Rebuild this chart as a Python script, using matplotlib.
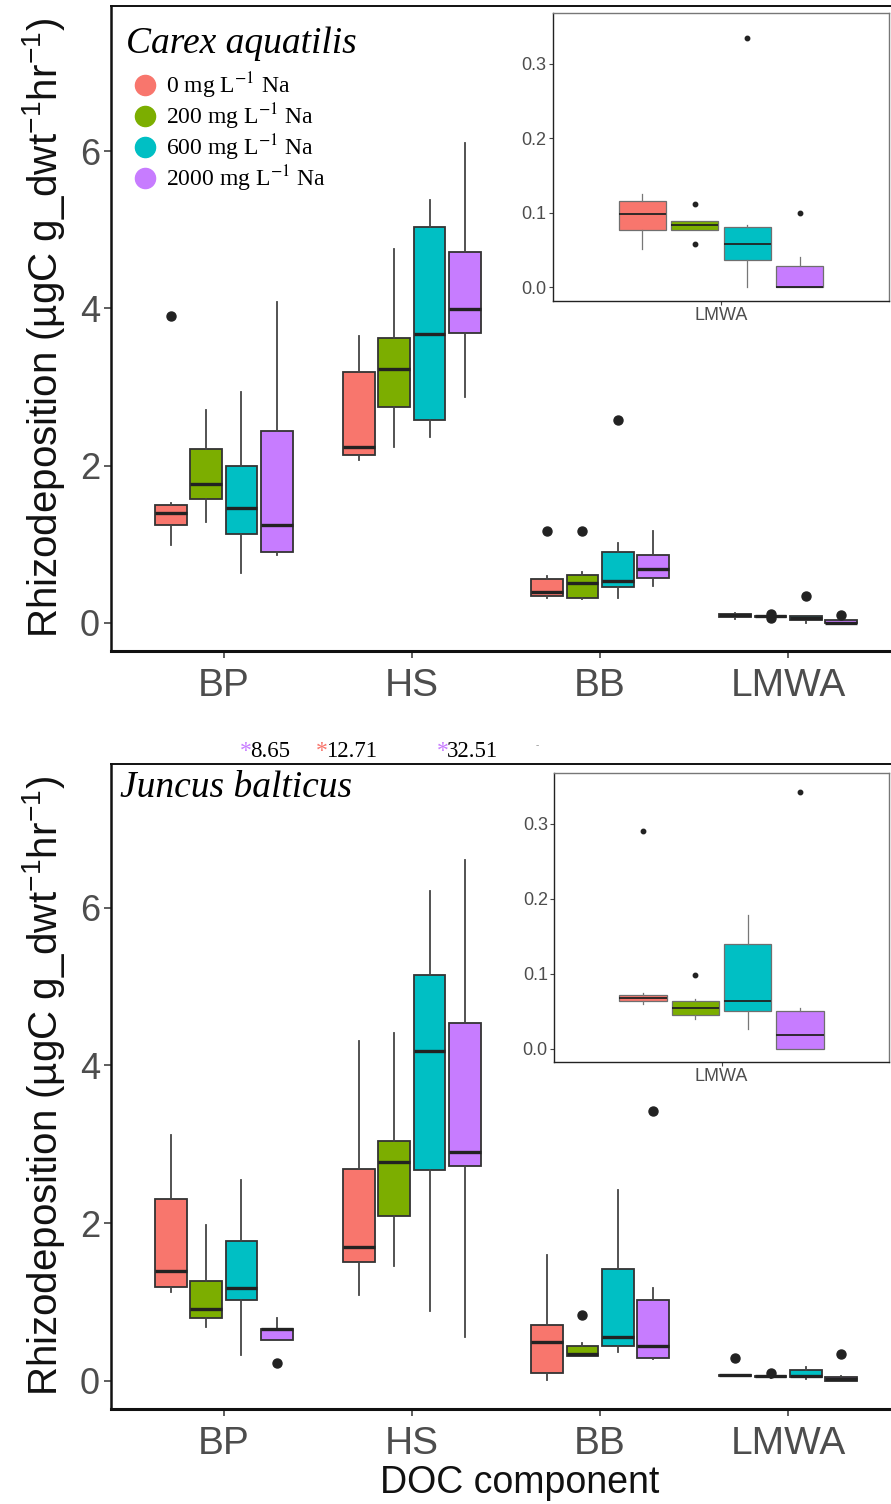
import matplotlib
matplotlib.use('Agg')
import matplotlib.pyplot as plt
import numpy as np
from matplotlib.lines import Line2D
from matplotlib.font_manager import FontProperties

plt.rcParams['mathtext.fontset'] = 'custom'
plt.rcParams['mathtext.rm'] = 'Liberation Sans'
plt.rcParams['mathtext.default'] = 'rm'

# ---------------- data ----------------
components = ['BP', 'HS', 'BB', 'LMWA']
treatments = ['0 mg L$^{-1}$ Na', '200 mg L$^{-1}$ Na', '600 mg L$^{-1}$ Na', '2000 mg L$^{-1}$ Na']
colors = ['#F8766D', '#7CAE00', '#00BFC4', '#C77CFF']

# Carex aquatilis: rows = components (BP, HS, BB, LMWA), cols = treatments
carex_q1 = [[1.24, 1.57, 1.13, 0.90], [2.13, 2.75, 2.58, 3.68], [0.34, 0.32, 0.45, 0.57], [0.0775, 0.0766, 0.036, 0.0]]
carex_med = [[1.39, 1.76, 1.46, 1.24], [2.24, 3.23, 3.67, 3.99], [0.39, 0.51, 0.53, 0.68], [0.0985, 0.0837, 0.058, 0.0]]
carex_q3 = [[1.50, 2.21, 2.00, 2.44], [3.19, 3.62, 5.03, 4.72], [0.56, 0.61, 0.90, 0.86], [0.1164, 0.089, 0.081, 0.029]]
carex_lo = [[0.99, 1.28, 0.63, 0.86], [2.07, 2.23, 2.36, 2.87], [0.32, 0.30, 0.32, 0.47], [0.052, 0.0766, 0.0, 0.0]]
carex_hi = [[1.52, 2.70, 2.93, 4.08], [3.65, 4.76, 5.38, 6.10], [0.60, 0.64, 1.02, 1.17], [0.125, 0.089, 0.084, 0.040]]
carex_fliers = {('BP', 0): [3.90], ('BB', 0): [1.17], ('BB', 1): [1.17], ('BB', 2): [2.58],
                ('LMWA', 1): [0.1115, 0.0587], ('LMWA', 2): [0.335], ('LMWA', 3): [0.100]}

# Juncus balticus
juncus_q1 = [[1.19, 0.79, 1.03, 0.52], [1.50, 2.09, 2.67, 2.73], [0.10, 0.31, 0.44, 0.29], [0.0633, 0.0455, 0.050, 0.0]]
juncus_med = [[1.39, 0.91, 1.18, 0.65], [1.70, 2.78, 4.18, 2.90], [0.49, 0.34, 0.55, 0.44], [0.0678, 0.054, 0.0638, 0.0187]]
juncus_q3 = [[2.30, 1.26, 1.77, 0.65], [2.68, 3.04, 5.15, 4.54], [0.71, 0.44, 1.42, 1.02], [0.0718, 0.0646, 0.1395, 0.050]]
juncus_lo = [[1.12, 0.68, 0.32, 0.52], [1.09, 1.46, 0.88, 0.55], [0.01, 0.31, 0.36, 0.27], [0.060, 0.0406, 0.0267, 0.0]]
juncus_hi = [[3.12, 1.97, 2.54, 0.79], [4.31, 4.41, 6.21, 6.60], [1.60, 0.48, 2.42, 1.18], [0.074, 0.067, 0.179, 0.054]]
juncus_fliers = {('BP', 3): [0.22], ('BB', 1): [0.83], ('BB', 3): [3.42],
                 ('LMWA', 0): [0.291], ('LMWA', 1): [0.098], ('LMWA', 3): [0.342]}

annot_values = ['8.65', '12.71', '32.51']
annot_colors = ['#C77CFF', '#F8766D', '#C77CFF']

# ---------------- layout helpers ----------------
W, H = 891, 1504
fig = plt.figure(figsize=(W / 100, H / 100), dpi=100)


def rect(l, t, r, b):
    return [l / W, 1 - b / H, (r - l) / W, (b - t) / H]


def fx(x):
    return x / W


def fy(y):
    return 1 - y / H


SANS = 'Liberation Sans'
SERIF = 'Liberation Serif'
GREY = '#4d4d4d'
dodge = (np.arange(4) - 1.5) * 0.1875
bw = 0.1875 * 0.9


def draw_boxes(ax, q1, med, q3, lo, hi, fliers, comp_idx, main=True):
    for j in range(4):
        stats = []
        pos = []
        for i in comp_idx:
            stats.append(dict(q1=q1[i][j], med=med[i][j], q3=q3[i][j],
                              whislo=lo[i][j], whishi=hi[i][j],
                              fliers=fliers.get((components[i], j), [])))
            pos.append((i + 1 if main else 1) + dodge[j])
        if main:
            lwb, ecol, mlw, ms, wcol = 1.3, '#333333', 2.4, 6.5, '#444444'
        else:
            lwb, ecol, mlw, ms, wcol = 0.9, '#6f6f6f', 1.3, 3.2, '#777777'
        res = ax.bxp(stats, positions=pos, widths=bw, patch_artist=True, showcaps=False,
                     boxprops=dict(edgecolor=ecol, linewidth=lwb, facecolor=colors[j]),
                     medianprops=dict(color='#222222', linewidth=mlw, solid_capstyle='butt'),
                     whiskerprops=dict(color=wcol, linewidth=lwb),
                     flierprops=dict(marker='o', markerfacecolor='#222222', markeredgecolor='#222222',
                                     markersize=ms, linestyle='none'),
                     manage_ticks=False)
        for b in res['boxes']:
            b.set_facecolor(colors[j])


def main_panel(rect_px, ylim, q1, med, q3, lo, hi, fliers):
    ax = fig.add_axes(rect(*rect_px))
    draw_boxes(ax, q1, med, q3, lo, hi, fliers, range(4), main=True)
    ax.set_xlim(0.4, 4.6)
    ax.set_ylim(*ylim)
    ax.set_xticks(np.arange(1, 5))
    ax.set_xticklabels(components, fontsize=28, color=GREY, family=SANS)
    ax.set_yticks([0, 2, 4, 6])
    ax.set_yticklabels(['0', '2', '4', '6'], fontsize=26, color=GREY, family=SANS)
    ax.tick_params(axis='x', length=5, width=1.1, color='#333333', pad=7)
    ax.tick_params(axis='y', length=5, width=1.1, color='#333333', pad=3)
    for s in ax.spines.values():
        s.set_color('#111111')
        s.set_linewidth(1.4)
    ax.spines['bottom'].set_linewidth(2.2)
    ax.spines['left'].set_linewidth(1.8)
    return ax


def inset_panel(rect_px, ylim, q1, med, q3, lo, hi, fliers):
    ax = fig.add_axes(rect(*rect_px))
    ax.set_facecolor('white')
    draw_boxes(ax, q1, med, q3, lo, hi, fliers, [3], main=False)
    ax.set_xlim(0.4, 1.6)
    ax.set_ylim(*ylim)
    ax.set_xticks([1])
    ax.set_xticklabels(['LMWA'], fontsize=13, color=GREY, family=SANS)
    ax.set_yticks([0.0, 0.1, 0.2, 0.3])
    ax.set_yticklabels(['0.0', '0.1', '0.2', '0.3'], fontsize=13, color=GREY, family=SANS)
    ax.tick_params(length=3, width=0.8, color='#444444', pad=1.5)
    for k, s in ax.spines.items():
        s.set_color('#777777')
        s.set_linewidth(1.0)
    ax.spines['left'].set_color('#222222')
    ax.spines['bottom'].set_color('#222222')
    return ax


# panel 1
ax1 = main_panel((111, 6, 901, 651), (-0.36, 7.846), carex_q1, carex_med, carex_q3, carex_lo, carex_hi, carex_fliers)
ins1 = inset_panel((553, 13, 889, 301), (-0.0184, 0.368), carex_q1, carex_med, carex_q3, carex_lo, carex_hi, carex_fliers)

# panel 2
ax2 = main_panel((111, 763.5, 901, 1409), (-0.359, 7.83), juncus_q1, juncus_med, juncus_q3, juncus_lo, juncus_hi, juncus_fliers)
ins2 = inset_panel((554, 773, 889, 1062), (-0.0174, 0.368), juncus_q1, juncus_med, juncus_q3, juncus_lo, juncus_hi, juncus_fliers)

# y labels
ylab = 'Rhizodeposition (µgC g_dwt$^{-1}$hr$^{-1}$)'
for yc in (328, 1086):
    fig.text(fx(44), fy(yc), ylab, rotation=90, ha='center', va='center',
             fontsize=29, family=SANS, color='#111111')

# x label
fig.text(fx(520), fy(1493), 'DOC component', ha='center', va='baseline',
         fontsize=27, family=SANS, color='#111111')

# species titles
fig.text(fx(126), fy(53), 'Carex aquatilis', ha='left', va='baseline',
         fontsize=27, family=SERIF, style='italic', color='black')
fig.text(fx(120), fy(797), 'Juncus balticus', ha='left', va='baseline',
         fontsize=27, family=SERIF, style='italic', color='black')

# legend
handles = [Line2D([], [], marker='o', linestyle='none', markersize=14.5,
                  markerfacecolor=c, markeredgecolor=c) for c in colors]
lp = FontProperties(family=SERIF, size=17, math_fontfamily='stix')
ax1.legend(handles, treatments, loc='upper left', bbox_to_anchor=(fx(134), fy(71)),
           bbox_transform=fig.transFigure, frameon=False, borderpad=0, borderaxespad=0,
           handlelength=0.95, handletextpad=0.42, labelspacing=0.02, prop=lp)

# annotations between panels
annot_x = [240, 316, 437]
for x, v, c in zip(annot_x, annot_values, annot_colors):
    fig.text(fx(x), fy(757), '*', color=c, fontsize=17, family=SERIF, ha='left', va='baseline')
    fig.text(fx(x + 10), fy(757), v, color='black', fontsize=16.5, family=SERIF, ha='left', va='baseline')
fig.text(fx(537), fy(748), '-', color='#999999', fontsize=7, family=SERIF, ha='center', va='baseline')

fig.savefig('out.png', dpi=100)
